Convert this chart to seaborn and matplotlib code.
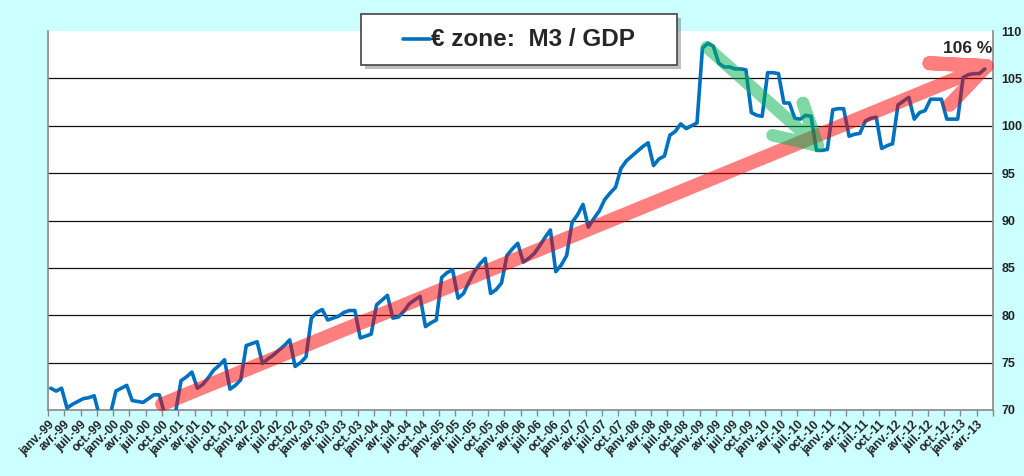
import numpy as np
import pandas as pd
import matplotlib
matplotlib.use("Agg")
import matplotlib.pyplot as plt
import matplotlib.patches as mpatches
import matplotlib.lines as mlines
import seaborn as sns

# Ratio M3 / PIB zone euro, mensuel, janv.-99 -> mai-13
ratio = [
    72.3, 72.0, 72.3, 70.2, 70.6, 70.9, 71.2, 71.3, 71.5, 69.3, 69.4, 69.6,   # 1999
    72.0, 72.3, 72.6, 71.0, 70.9, 70.8, 71.2, 71.6, 71.6, 69.5, 69.6, 69.8,   # 2000
    73.1, 73.5, 74.0, 72.3, 72.7, 73.4, 74.2, 74.7, 75.3, 72.2, 72.6, 73.2,   # 2001
    76.8, 77.0, 77.2, 74.9, 75.4, 75.8, 76.3, 76.8, 77.4, 74.6, 75.0, 75.6,   # 2002
    79.7, 80.3, 80.6, 79.5, 79.7, 79.9, 80.3, 80.5, 80.5, 77.6, 77.8, 78.0,   # 2003
    81.1, 81.6, 82.1, 79.7, 79.8, 80.4, 81.2, 81.6, 82.0, 78.8, 79.2, 79.5,   # 2004
    84.0, 84.5, 84.8, 81.8, 82.3, 83.5, 84.6, 85.4, 86.0, 82.3, 82.7, 83.4,   # 2005
    86.3, 87.0, 87.6, 85.6, 86.0, 86.5, 87.3, 88.2, 89.0, 84.6, 85.3, 86.3,   # 2006
    89.8, 90.6, 91.7, 89.3, 90.2, 91.0, 92.2, 92.9, 93.5, 95.5, 96.3, 96.8,   # 2007
    97.3, 97.8, 98.2, 95.8, 96.5, 96.8, 99.0, 99.4, 100.2, 99.7, 100.0, 100.3,  # 2008
    108.2, 108.7, 108.4, 106.6, 106.2, 106.2, 106.0, 106.0, 105.9, 101.4, 101.1, 101.0,  # 2009
    105.6, 105.6, 105.5, 102.4, 102.4, 100.8, 100.7, 101.1, 101.0, 97.4, 97.4, 97.5,  # 2010
    101.7, 101.8, 101.8, 98.9, 99.1, 99.2, 100.5, 100.8, 100.9, 97.6, 97.9, 98.1,  # 2011
    102.2, 102.6, 103.0, 100.7, 101.4, 101.6, 102.8, 102.8, 102.8, 100.7, 100.7, 100.7,  # 2012
    105.1, 105.4, 105.5, 105.5, 106.0,                                          # 2013
]

annees = [f"{a % 100:02d}" for a in range(1999, 2014)]
trimestres = ["janv.", "avr.", "juil.", "oct."]
etiquettes = [f"{t}-{a}" for a in annees for t in trimestres][:58]

# fleches (coordonnees en donnees : mois, ratio)
fleche_rouge_x = [21.0, 172.8, 162.3, 172.8, 166.0]
fleche_rouge_y = [70.6, 106.3, 106.6, 106.3, 102.2]
fleche_verte_x = [121.3, 141.7, 139.0, 141.7, 133.4]
fleche_verte_y = [108.3, 97.9, 102.4, 97.9, 99.0]

df = pd.DataFrame({"mois": np.arange(len(ratio)) + 0.5, "ratio": ratio})

sns.set_style("white")
plt.rcParams["font.family"] = ["Liberation Sans", "DejaVu Sans"]

fig = plt.figure(figsize=(10.24, 4.76), dpi=100)
fig.patch.set_facecolor("#CCFFFF")
ax = fig.add_axes([48 / 1024, 1 - 410 / 476, (993 - 48) / 1024, (410 - 31) / 476])
ax.set_facecolor("white")

sns.lineplot(data=df, x="mois", y="ratio", ax=ax, color="#0070C0", lw=2.6, zorder=3)

ax.plot(fleche_rouge_x, fleche_rouge_y, color=(1, 0, 0, 0.5), lw=10,
        solid_capstyle="round", solid_joinstyle="round", zorder=4, clip_on=False)
ax.plot(fleche_verte_x, fleche_verte_y, color=(0, 0.69, 0.31, 0.5), lw=9,
        solid_capstyle="round", solid_joinstyle="round", zorder=5, clip_on=False)

ax.text(164.8, 108.2, "106 %", fontsize=12.5, fontweight="bold", va="center", ha="left")

ax.set_xlim(0, 174)
ax.set_ylim(70, 110)
ax.set_xticks(np.arange(0, 175, 3))
ax.set_xticklabels(etiquettes + [""], rotation=45, ha="right", rotation_mode="anchor",
                   fontsize=8.6, fontweight="bold", color="#222222")
ax.tick_params(axis="x", direction="out", length=4, width=1, color="#888888", pad=2,
               bottom=True)
ax.yaxis.tick_right()
ax.set_yticks(range(70, 111, 5))
ax.set_yticklabels([str(v) for v in range(70, 111, 5)], fontsize=9, fontweight="bold",
                   color="#222222")
ax.tick_params(axis="y", length=0, pad=6)
ax.set_xlabel("")
ax.set_ylabel("")

ax.yaxis.grid(True, color="#111111", lw=0.9)
ax.set_axisbelow(True)
grid = ax.get_ygridlines()
grid[0].set_visible(False)
grid[-1].set_visible(False)

for s in ["left", "bottom", "right"]:
    ax.spines[s].set_color("#888888")
    ax.spines[s].set_linewidth(1.2)
ax.spines["top"].set_visible(False)

# cadre du titre / legende
W, H = 1024, 476
x0, y0, w, h = 361, 14, 316, 51
fig.patches.append(mpatches.Rectangle(((x0 + 4) / W, 1 - (y0 + h + 4) / H), w / W, h / H,
                                      transform=fig.transFigure, facecolor="#000000",
                                      alpha=0.25, edgecolor="none", zorder=5))
fig.patches.append(mpatches.Rectangle((x0 / W, 1 - (y0 + h) / H), w / W, h / H,
                                      transform=fig.transFigure, facecolor="white",
                                      edgecolor="#444444", lw=1.2, zorder=6))
fig.lines.append(mlines.Line2D([403 / W, 430 / W], [1 - 39 / H, 1 - 39 / H],
                               transform=fig.transFigure, color="#0070C0", lw=2.6, zorder=7))
fig.text(431 / W, 1 - 40 / H, "€ zone:  M3 / GDP", fontsize=17.5, fontweight="bold",
         va="center", ha="left", zorder=8)

fig.savefig("out.png", dpi=100, facecolor=fig.get_facecolor())
